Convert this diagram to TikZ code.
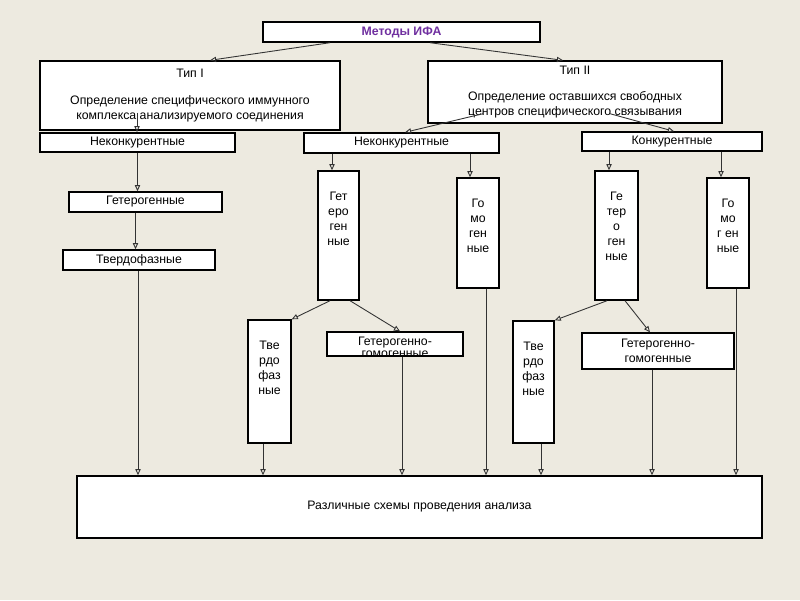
\documentclass[tikz,border=0pt]{standalone}
\usepackage{fontspec}
\setmainfont{Liberation Sans}
\usetikzlibrary{arrows.meta, positioning, calc}
\definecolor{bgbeige}{RGB}{237,234,224}
\definecolor{ifapurple}{RGB}{112,48,160}
\newcommand{\pxu}{0.02cm}

\begin{document}
\begin{tikzpicture}[x=0.02cm, y=-0.02cm,
    every node/.style={font=\fontsize{7}{8.5}\selectfont},
    box/.style={draw, fill=white, line width=0.8pt, inner sep=0pt, align=center},
    sz/.style 2 args={minimum width=#1*\pxu, minimum height=#2*\pxu},
    arr/.style={draw=black!80, line width=0.5pt, -{Triangle[open, length=3.5pt, width=3pt]}}]
  \fill[bgbeige] (0,0) rectangle (800,600);

  % top levels
  \node[box, sz={277}{20}, text=ifapurple, font=\fontsize{7}{8.5}\selectfont\bfseries] (ifa) at (401.5,32) {Методы ИФА};
  \node[box, sz={300}{69}] (tip1) at (190,95.5) {Тип I\\[6.5pt]Определение специфического иммунного\\комплекса анализируемого соединения};
  \node[box, sz={294}{62}] (tip2) at (575,92) {Тип II\\[6.5pt]Определение оставшихся свободных\\центров специфического связывания};

  \node[box, sz={195}{19}] (nk1) at (137.5,142.5) {Неконкурентные};
  \node[box, sz={195}{20}] (nk2) at (401.5,143) {Неконкурентные};
  \node[box, sz={180}{19}] (konk) at (672,141.5) {Конкурентные};

  \node[box, sz={153}{20}] (het1) at (145.5,202) {Гетерогенные};
  \node[box, sz={152}{20}] (tverd1) at (139,260) {Твердофазные};

  % narrow boxes, text near the top
  \foreach \n/\x/\y/\w/\h/\t in {het2/338.5/235.5/41/129/{Гет\\еро\\ген\\ные},
      hom2/478/233/42/110/{Го\\мо\\ген\\ные},
      het3/616.5/235.5/43/129/{Ге\\тер\\о\\ген\\ные},
      hom3/728/233/42/110/{Го\\мо\\г ен\\ные},
      tverd2/269.5/381.5/43/123/{Тве\\рдо\\фаз\\ные},
      tverd3/533.5/382/41/122/{Тве\\рдо\\фаз\\ные}} {
    \node[box, sz={\w}{\h}, label={[anchor=north, yshift=-16*\pxu, align=center]north:\t}] (\n) at (\x,\y) {};
  }

  \node[box, sz={136}{24}] (hg2) at (395,344) {};
  \begin{scope}
    \clip (hg2.south west) rectangle (hg2.north east);
    \node[anchor=north, align=center, inner sep=0pt] (hg2t) at ([yshift=-5*\pxu]hg2.north) {Гетерогенно-\\[-1.7pt]гомогенные};
  \end{scope}
  \node[box, sz={152}{36}] (hg3) at (658,351) {Гетерогенно-\\гомогенные};

  \node[box, sz={685}{62}] (res) at (419.5,507) {Различные схемы проведения анализа};

  % slanted connectors
  \draw[arr] ($(ifa.south)+(-71.5,0)$) -- ($(tip1.north)+(20,0)$);
  \draw[arr] ($(ifa.south)+(28.5,0)$) -- ($(tip2.north)+(-12,0)$);
  \draw[arr] ($(tip2.south)+(-92,-10)$) -- ($(nk2.north)+(3.5,0)$);
  \draw[arr] ($(tip2.south)+(35,-10)$) -- ($(konk.north)+(2,0)$);
  \draw[arr] ($(het2.south)+(-8.5,0)$) -- (tverd2.north east);
  \draw[arr] ($(het2.south)+(11.5,0)$) -- ($(hg2.north)+(5,0)$);
  \draw[arr] ($(het3.south)+(-9.5,0)$) -- (tverd3.north east);
  \draw[arr] ($(het3.south)+(8.5,0)$) -- ($(hg3.north)+(-8,0)$);

  % vertical connectors
  \coordinate (t1a) at ($(tip1.south)+(-53,-18)$);
  \draw[arr] (t1a) -- (t1a |- nk1.north);
  \foreach \s/\dx/\e in {nk1/0/het1, het1/-10/tverd1, nk2/-69.5/het2, nk2/68.5/hom2,
      konk/-63/het3, konk/49/hom3, tverd1/-1/res, tverd2/-6.5/res, hg2/7/res,
      hom2/8/res, tverd3/7.5/res, hg3/-6/res, hom3/8/res}
    \draw[arr] ($(\s.south)+(\dx,0)$) coordinate (p) -- (p |- \e.north);
\end{tikzpicture}
\end{document}
